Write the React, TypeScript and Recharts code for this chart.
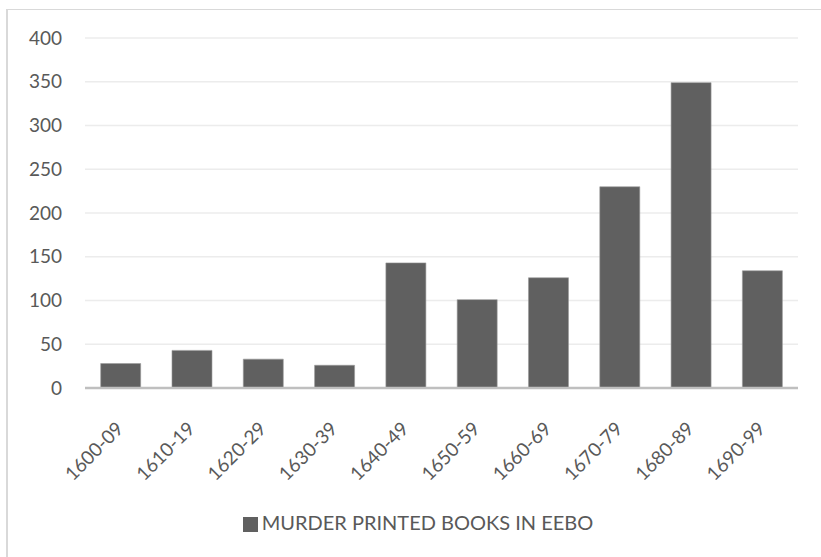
import { Bar, BarChart, CartesianGrid, Legend, XAxis, YAxis } from "recharts";

const decades = [
  "1600-09",
  "1610-19",
  "1620-29",
  "1630-39",
  "1640-49",
  "1650-59",
  "1660-69",
  "1670-79",
  "1680-89",
  "1690-99",
];
const murderBooks = [28, 43, 33, 26, 143, 101, 126, 230, 349, 134];
const yTicks = [0, 50, 100, 150, 200, 250, 300, 350, 400];
const seriesName = "MURDER PRINTED BOOKS IN EEBO";

const data = decades.map((d, i) => ({ decade: d, books: murderBooks[i] }));

const FONT = "Lato, 'Noto Sans', sans-serif";
const TEXT = "#595959";

function DecadeTick({ x, y, payload }: any) {
  return (
    <g transform={`translate(${x + 4},${y + 42}) rotate(-45)`}>
      <text x={0} y={0} textAnchor="end" fill={TEXT} fontSize={19} fontFamily={FONT}>
        {payload.value}
      </text>
    </g>
  );
}

export default function App() {
  return (
    <div
      style={{
        position: "absolute",
        left: 6,
        top: 9,
        width: 830,
        height: 560,
        borderLeft: "2px solid #d9d9d9",
        borderTop: "1px solid #d9d9d9",
        background: "#fff",
      }}
    >
      <BarChart
        width={815}
        height={548}
        data={data}
        margin={{ top: 28, right: 25, left: 0, bottom: 0 }}
        barCategoryGap="22%"
        style={{ fontFamily: FONT }}
      >
        <CartesianGrid vertical={false} stroke="#ececec" strokeWidth={1.5} />
        <XAxis
          dataKey="decade"
          tick={<DecadeTick />}
          tickLine={false}
          tickSize={0}
          tickMargin={0}
          axisLine={{ stroke: "#bfbfbf", strokeWidth: 2.5 }}
          interval={0}
          height={146}
        />
        <YAxis
          domain={[0, 400]}
          ticks={yTicks}
          tickLine={false}
          axisLine={false}
          tickSize={0}
          tickMargin={23}
          width={77}
          tick={{ fill: TEXT, fontSize: 19, fontFamily: FONT }}
          interval={0}
        />
        <Legend
          verticalAlign="bottom"
          iconType="square"
          iconSize={15}
          wrapperStyle={{ bottom: 24, left: 20, fontSize: 20, fontFamily: FONT }}
          formatter={(v) => <span style={{ color: TEXT }}>{v}</span>}
        />
        <Bar
          dataKey="books"
          name={seriesName}
          fill="#606060"
          stroke="#9a9a9a"
          strokeWidth={0.6}
          isAnimationActive={false}
        />
      </BarChart>
    </div>
  );
}
